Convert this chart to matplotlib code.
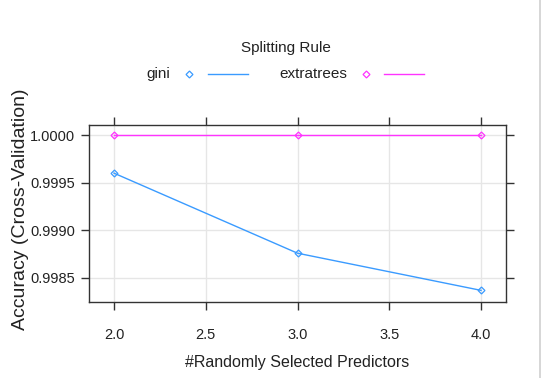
import numpy as np
import matplotlib
matplotlib.use("Agg")
import matplotlib.pyplot as plt
from matplotlib.lines import Line2D

plt.rcParams['font.family'] = ['Liberation Sans', 'DejaVu Sans']

# data
predictors = [2, 3, 4]
gini = [0.99960, 0.99876, 0.99837]
extratrees = [1.0, 1.0, 1.0]
xticks = [2.0, 2.5, 3.0, 3.5, 4.0]
yticks = [0.9985, 0.9990, 0.9995, 1.0000]

BLUE = '#3a9bff'
MAGENTA = '#ff33ff'
TXT = '#222222'

W, H = 543, 378
fig = plt.figure(figsize=(W / 100, H / 100), dpi=100)
ax = fig.add_axes([89 / W, 1 - 302 / H, (506 - 89) / W, (302 - 125) / H])

ax.plot(predictors, gini, color=BLUE, lw=1, marker='D', ms=3.5,
        mfc='none', mec=BLUE, mew=0.9)
ax.plot(predictors, extratrees, color=MAGENTA, lw=1, marker='D', ms=3.5,
        mfc='none', mec=MAGENTA, mew=0.9)

ax.set_xlim(1.864, 4.136)
ax.set_ylim(0.998248, 1.000105)
ax.set_xticks(xticks)
ax.set_yticks(yticks)
ax.set_xticklabels(['%.1f' % t for t in xticks])
ax.set_yticklabels(['%.4f' % t for t in yticks])
ax.grid(True, color='#e6e6e6', lw=1)
ax.set_axisbelow(True)

ax.tick_params(axis='both', direction='out', length=6, width=1, color='#333333',
               labelsize=10.5, labelcolor=TXT)
ax.tick_params(axis='x', top=True, labeltop=False, pad=13)
ax.tick_params(axis='y', right=True, labelright=False, pad=4)
for s in ax.spines.values():
    s.set_color('#333333')
    s.set_linewidth(1)

ax.set_xlabel('#Randomly Selected Predictors', fontsize=11.5, color=TXT, labelpad=9)
fig.text(21 / W, 1 - 209 / H, 'Accuracy (Cross-Validation)', rotation=90,
         fontsize=14, color=TXT, ha='center', va='center')

# legend drawn manually in lattice style
fig.text(286 / W, 1 - 48 / H, 'Splitting Rule', fontsize=11, color=TXT,
         ha='center', va='center')
ly = 1 - 74 / H
fig.text(170 / W, ly, 'gini', fontsize=11, color=TXT, ha='right', va='center')
fig.add_artist(Line2D([189 / W], [ly], marker='D', ms=3.5, mfc='none', mec=BLUE,
                      mew=0.9, transform=fig.transFigure))
fig.add_artist(Line2D([208 / W, 248 / W], [ly, ly], color=BLUE, lw=1,
                      transform=fig.transFigure))
fig.text(347 / W, ly, 'extratrees', fontsize=11, color=TXT, ha='right', va='center')
fig.add_artist(Line2D([366 / W], [ly], marker='D', ms=3.5, mfc='none', mec=MAGENTA,
                      mew=0.9, transform=fig.transFigure))
fig.add_artist(Line2D([384 / W, 424 / W], [ly, ly], color=MAGENTA, lw=1,
                      transform=fig.transFigure))

# faint border line at the right edge
fig.add_artist(Line2D([540 / W, 540 / W], [0, 1], color='#d0d0d0', lw=1.2,
                      transform=fig.transFigure))

fig.savefig('out.png', dpi=100)
